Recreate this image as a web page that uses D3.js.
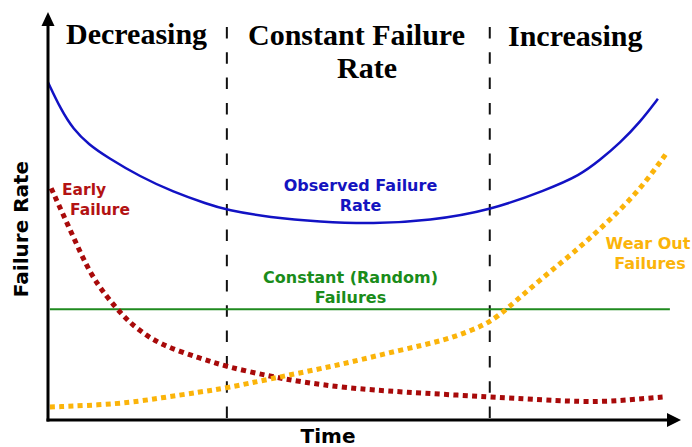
<!DOCTYPE html>
<html>
<head>
<meta charset="utf-8">
<script src="https://cdn.jsdelivr.net/npm/d3@7"></script>
<style>
  html, body { margin: 0; padding: 0; background: #fff; }
  svg { display: block; }
  .lbl { font-family: "DejaVu Sans", sans-serif; font-weight: bold; }
  .ttl { font-family: "Liberation Serif", "Times New Roman", serif; font-weight: bold; fill: #000; }
</style>
</head>
<body>
<svg id="chart" width="692" height="447"></svg>
<script>
// ---- data (time 0..100, failure rate 0..100) ----
const observedTime = [0, 2, 4, 6.5, 9.3, 14.6, 19.8, 25.2, 28.3, 35.1, 43, 51.4, 60.4, 69.9, 78.9, 84.2, 87.3, 90.5, 93.7, 96.5];
const observedRate = [83.2, 76.6, 71.6, 67.8, 64.8, 59.9, 56.2, 53.2, 51.7, 49.9, 48.8, 48.3, 49.1, 51.6, 56.7, 60.3, 64.0, 68.2, 73.4, 79.1];

const earlyTime = [0.5, 4, 6.6, 9.3, 11.8, 13.8, 17.7, 24.1, 28.3, 35.1, 39.9, 47.2, 55.7, 69.9, 81, 87.3, 93.7, 97.5];
const earlyRate = [57.1, 45.1, 36.2, 30.3, 25.8, 22.8, 18.5, 15.2, 13.1, 10.8, 9.4, 7.9, 6.9, 5.7, 4.7, 4.4, 5.2, 5.7];

const wearTime = [0.3, 11.4, 17.7, 24.1, 28.3, 35.1, 43, 47.2, 55.7, 63, 67.2, 69.9, 72.6, 77.8, 83.1, 88.4, 93.7, 97.9];
const wearRate = [3.2, 3.9, 5.4, 6.9, 7.9, 10.1, 12.6, 14.0, 17.2, 19.7, 22.2, 24.1, 27.3, 34.5, 41.1, 48.5, 56.7, 65.8];

const constantRate = 27.3;
const constantSpan = [0.3, 98.4];

const boundaries = [28.3, 69.9];
const regionTitles = [["Decreasing"], ["Constant Failure", "Rate"], ["Increasing"]];

const xLabel = "Time";
const yLabel = "Failure Rate";

// ---- scales ----
const svg = d3.select("#chart");
const x = d3.scaleLinear().domain([0, 100]).range([48, 680]);
const y = d3.scaleLinear().domain([0, 100]).range([420, 14]);

const zip = (a, b) => a.map((v, i) => [v, b[i]]);
const line = d3.line().x(d => x(d[0])).y(d => y(d[1])).curve(d3.curveBasis);

// boundaries (dashed)
svg.selectAll(".bound").data(boundaries).join("line")
  .attr("x1", d => x(d)).attr("x2", d => x(d))
  .attr("y1", 27).attr("y2", y(0))
  .attr("stroke", "#111").attr("stroke-width", 2)
  .attr("stroke-dasharray", "11.5,13.8");

// constant line
svg.append("line")
  .attr("x1", x(constantSpan[0])).attr("x2", x(constantSpan[1]))
  .attr("y1", y(constantRate)).attr("y2", y(constantRate))
  .attr("stroke", "#1f8a1f").attr("stroke-width", 2);

// observed
svg.append("path").datum(zip(observedTime, observedRate))
  .attr("d", line).attr("fill", "none")
  .attr("stroke", "#1212c4").attr("stroke-width", 2.5);

// early failure (dotted)
svg.append("path").datum(zip(earlyTime, earlyRate))
  .attr("d", line).attr("fill", "none")
  .attr("stroke", "#a80a0a").attr("stroke-width", 5)
  .attr("stroke-dasharray", "5,4.3");

// wear out (dotted)
svg.append("path").datum(zip(wearTime, wearRate))
  .attr("d", line).attr("fill", "none")
  .attr("stroke", "#fbb40a").attr("stroke-width", 5)
  .attr("stroke-dasharray", "5,4.3");

// axes
svg.append("line").attr("x1", x(0)).attr("x2", x(0)).attr("y1", 24).attr("y2", y(0) + 1.5)
  .attr("stroke", "#000").attr("stroke-width", 3);
svg.append("line").attr("x1", x(0) - 1.5).attr("x2", 670).attr("y1", y(0)).attr("y2", y(0))
  .attr("stroke", "#000").attr("stroke-width", 3);
svg.append("path").attr("d", `M${x(0)},12 L${x(0) - 6.5},26 L${x(0) + 6.5},26 Z`).attr("fill", "#000");
svg.append("path").attr("d", `M681,${y(0)} L667,${y(0) - 7} L667,${y(0) + 7} Z`).attr("fill", "#000");

// axis labels
svg.append("text").attr("class", "lbl").attr("x", 328).attr("y", 443)
  .attr("text-anchor", "middle").attr("font-size", 20).attr("fill", "#000").text(xLabel);
svg.append("text").attr("class", "lbl")
  .attr("transform", "translate(28,229) rotate(-90)")
  .attr("text-anchor", "middle").attr("font-size", 20).attr("fill", "#000").text(yLabel);

// region titles
svg.append("text").attr("class", "ttl").attr("x", 66).attr("y", 44)
  .attr("font-size", 30).text(regionTitles[0][0]);
svg.append("text").attr("class", "ttl").attr("x", 248).attr("y", 45)
  .attr("font-size", 30).text(regionTitles[1][0]);
svg.append("text").attr("class", "ttl").attr("x", 367).attr("y", 78).attr("text-anchor", "middle")
  .attr("font-size", 30).text(regionTitles[1][1]);
svg.append("text").attr("class", "ttl").attr("x", 508).attr("y", 46)
  .attr("font-size", 30).text(regionTitles[2][0]);

// series labels
function label(lines, cx, cy, anchor, color, size, dx2) {
  lines.forEach((t, i) => {
    svg.append("text").attr("class", "lbl")
      .attr("x", cx + (i ? dx2 : 0)).attr("y", cy + i * 20)
      .attr("text-anchor", anchor).attr("font-size", size)
      .attr("fill", color).text(t);
  });
}
label(["Early", "Failure"], 62, 195, "start", "#b31313", 15.5, 8);
label(["Observed Failure", "Rate"], 360.5, 191, "middle", "#1414c0", 16, 0);
label(["Constant (Random)", "Failures"], 350.5, 283, "middle", "#1a8c1a", 16, 0);
label(["Wear Out", "Failures"], 648, 249, "middle", "#fbb40a", 16, 2);
</script>
</body>
</html>
